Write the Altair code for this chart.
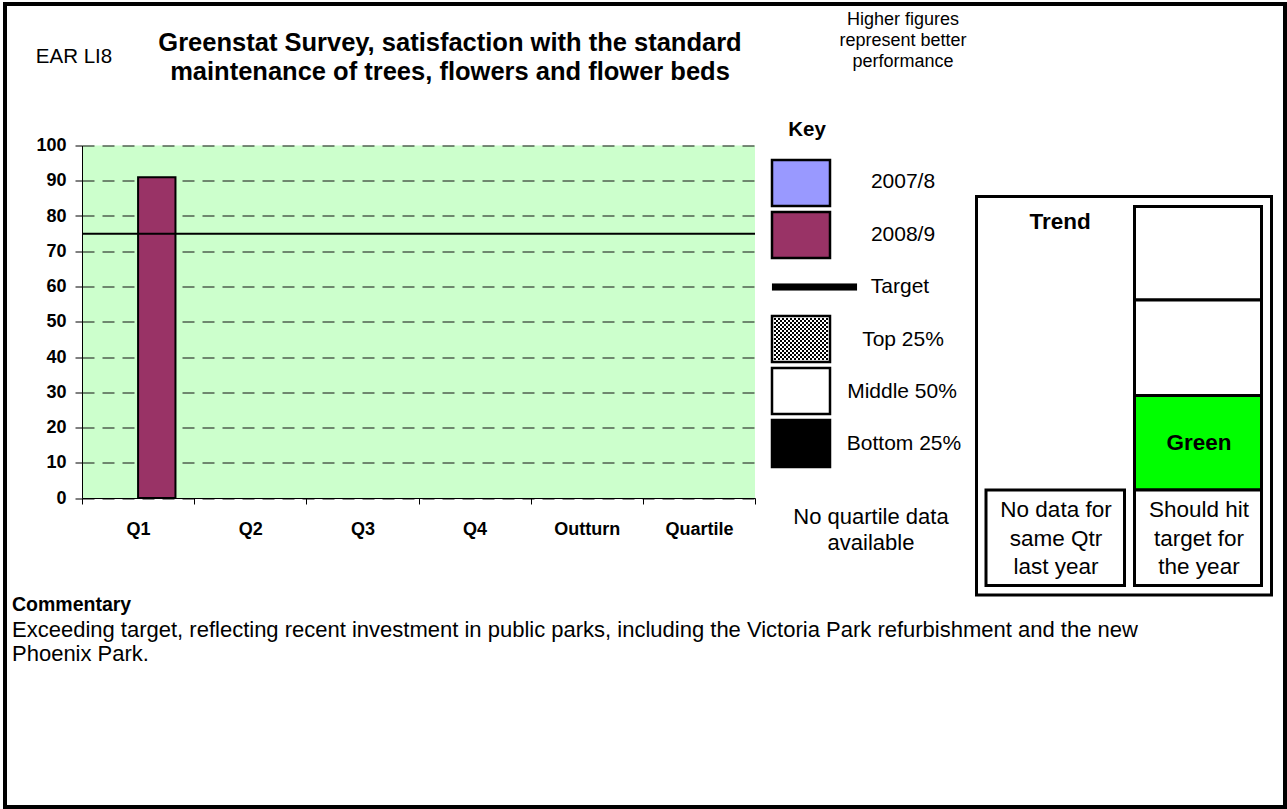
import altair as alt
import pandas as pd

FONT = "Liberation Sans"

# ---------------- data ----------------
periods = ["Q1", "Q2", "Q3", "Q4", "Outturn", "Quartile"]
series_names = ["2007/8", "2008/9"]
series_colors = ["#9999ff", "#993366"]
values_2007_8 = [None, None, None, None, None, None]
values_2008_9 = [91, None, None, None, None, None]
target_value = [75]
y_ticks = [0, 10, 20, 30, 40, 50, 60, 70, 80, 90, 100]

# ---------------- layout ----------------
OX, OY = 82, 145.5          # plot-area origin on the page
W, H = 673, 352.5           # plot-area size
PAGE_W, PAGE_H = 1287, 809

rows = []
for p, a, b in zip(periods, values_2007_8, values_2008_9):
    rows.append({"period": p, "series": series_names[0], "value": a})
    rows.append({"period": p, "series": series_names[1], "value": b})
bars_df = pd.DataFrame(rows)
target_df = pd.DataFrame({"value": target_value})

x_scale = alt.Scale(domain=periods, paddingInner=0, paddingOuter=0)
y_scale = alt.Scale(domain=[0, 100], nice=False)
y_axis = alt.Axis(title=None, values=y_ticks, tickCount=len(y_ticks) + 2, labelOverlap=False,
                  tickSize=7, tickColor="black",
                  domainColor="black", domainWidth=1, labelFont=FONT,
                  labelFontSize=18, labelFontWeight="bold", labelColor="black",
                  labelPadding=9, grid=True, gridColor="#111111",
                  gridDash=[12, 8], gridWidth=1)

bars = alt.Chart(bars_df).mark_bar(stroke="black", strokeWidth=2).encode(
    x=alt.X("period:N", sort=periods, scale=x_scale,
            axis=alt.Axis(title=None, labelAngle=0, tickBand="extent", tickSize=6,
                          tickColor="black", domainColor="black", domainWidth=1,
                          labelFont=FONT, labelFontSize=18, labelFontWeight="bold",
                          labelColor="black", labelPadding=16, grid=False)),
    xOffset=alt.XOffset("series:N", scale=alt.Scale(domain=series_names,
                                                     paddingInner=0, paddingOuter=0.5)),
    y=alt.Y("value:Q", scale=y_scale, axis=y_axis),
    color=alt.Color("series:N", scale=alt.Scale(domain=series_names, range=series_colors),
                    legend=None),
)

target_line = alt.Chart(target_df).mark_rule(color="black", strokeWidth=2).encode(
    y=alt.Y("value:Q", scale=y_scale, axis=y_axis)
)

# ---------------- decorations (page pixel layout) ----------------
def box(x1, y1, x2, y2, fill, stroke="black", sw=2.5):
    return {"x": x1 - OX, "y": y1 - OY, "x2": x2 - OX, "y2": y2 - OY,
            "fill": fill, "stroke": stroke, "sw": sw}

deco_rows = [
    # key swatches
    box(772, 160, 830, 206, series_colors[0]),
    box(772, 212, 830, 258, series_colors[1]),
    box(772, 283.5, 857, 290.5, "black", "black", 0.1),
    box(772, 316, 830, 362, "white"),
    box(772, 368, 830, 414, "white"),
    box(772, 420, 830, 467, "black"),
    # trend panel
    box(976.5, 196.5, 1271.5, 595, "white", "black", 3),
    box(1134.5, 206.5, 1261.5, 300, "white", "black", 3),
    box(1134.5, 300, 1261.5, 395.5, "white", "black", 3),
    box(1134.5, 395.5, 1261.5, 490, "#00ff00", "black", 3),
    box(1134.5, 490, 1261.5, 585.5, "white", "black", 3),
    box(986, 490, 1124.5, 585.5, "white", "black", 3),
    # outer frame
    box(5, 4, 1285, 807, "transparent", "black", 4),
]
# checkerboard texture of the "Top 25%" swatch
for i in range(27):
    for j in range(21):
        if (i + j) % 2 == 0:
            cx, cy = 774 + 2 * i, 318 + 2 * j
            deco_rows.append(box(cx, cy, cx + 2, cy + 2, "black", "transparent", 0))
deco = pd.DataFrame(deco_rows)

deco_layer = alt.Chart(deco).mark_rect().encode(
    x=alt.X("x:Q", scale=None, axis=None),
    x2="x2:Q",
    y=alt.Y("y:Q", scale=None, axis=None),
    y2="y2:Q",
    fill=alt.Fill("fill:N", scale=None),
    stroke=alt.Stroke("stroke:N", scale=None),
    strokeWidth=alt.StrokeWidth("sw:Q", scale=None),
)

def txt(text, x, y, size, style):
    return {"text": text, "x": x - OX, "y": y - OY, "size": size, "style": style}

texts = pd.DataFrame([
    txt("EAR LI8", 74, 57, 20.5, "rc"),
    txt("Greenstat Survey, satisfaction with the standard", 450, 43, 25.5, "bc"),
    txt("maintenance of trees, flowers and flower beds", 450, 72, 25.5, "bc"),
    txt("Higher figures", 903, 20, 18, "rc"),
    txt("represent better", 903, 41, 18, "rc"),
    txt("performance", 903, 62, 18, "rc"),
    txt("Key", 807, 130, 20.5, "bc"),
    txt("2007/8", 903, 182, 21, "rc"),
    txt("2008/9", 903, 235, 21, "rc"),
    txt("Target", 900, 287, 21, "rc"),
    txt("Top 25%", 903, 340, 21, "rc"),
    txt("Middle 50%", 902, 392, 21, "rc"),
    txt("Bottom 25%", 904, 444, 21, "rc"),
    txt("No quartile data", 871, 517, 22, "rc"),
    txt("available", 871, 543, 22, "rc"),
    txt("Trend", 1060, 222, 22.5, "bc"),
    txt("Green", 1199, 443, 22.5, "bc"),
    txt("No data for", 1056, 510, 22.5, "rc"),
    txt("same Qtr", 1056, 539, 22.5, "rc"),
    txt("last year", 1056, 567, 22.5, "rc"),
    txt("Should hit", 1199, 510, 22.5, "rc"),
    txt("target for", 1199, 539, 22.5, "rc"),
    txt("the year", 1199, 567, 22.5, "rc"),
    txt("Commentary", 12, 605, 19.5, "bl"),
    txt("Exceeding target, reflecting recent investment in public parks, including the "
        "Victoria Park refurbishment and the new", 12, 630, 22, "rl"),
    txt("Phoenix Park.", 12, 654, 22, "rl"),
])

def text_layer(style, align, weight):
    return alt.Chart(texts).transform_filter(alt.datum.style == style).mark_text(
        font=FONT, align=align, baseline="middle", fontWeight=weight, color="black"
    ).encode(
        x=alt.X("x:Q", scale=None, axis=None),
        y=alt.Y("y:Q", scale=None, axis=None),
        text="text:N",
        size=alt.Size("size:Q", scale=None),
    )

chart = alt.layer(
    bars,
    target_line,
    deco_layer,
    text_layer("rc", "center", "normal"),
    text_layer("bc", "center", "bold"),
    text_layer("rl", "left", "normal"),
    text_layer("bl", "left", "bold"),
).properties(
    width=W,
    height=H,
    autosize=alt.AutoSizeParams(type="none"),
    padding={"left": OX, "top": OY, "right": PAGE_W - OX - W, "bottom": PAGE_H - OY - H},
    background="white",
).configure_view(fill="#ccffcc", stroke=None)

chart.save("out.html", embed_options={"renderer": "svg", "actions": False})
